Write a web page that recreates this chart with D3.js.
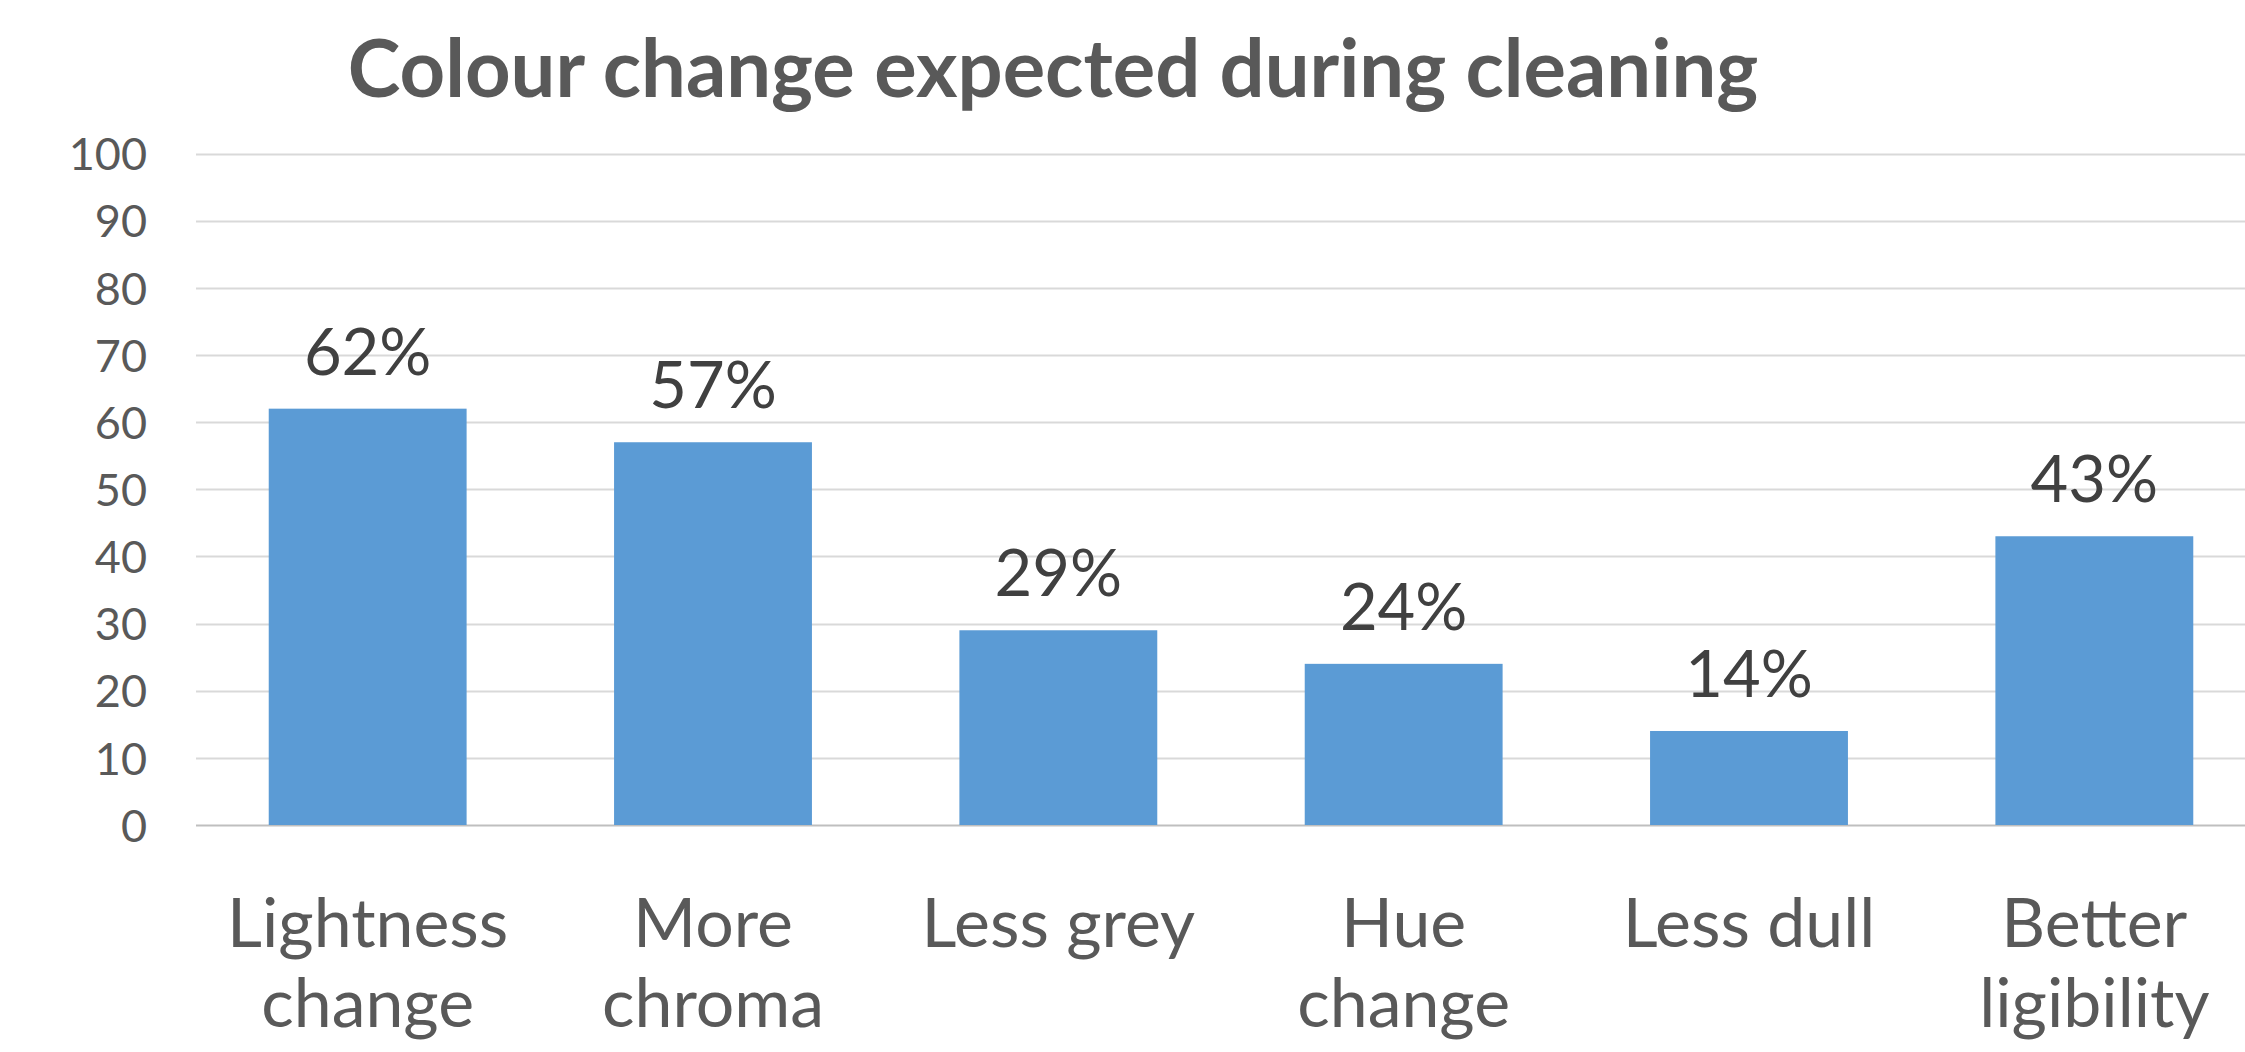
<!DOCTYPE html>
<html>
<head>
<meta charset="utf-8">
<script src="https://cdn.jsdelivr.net/npm/d3@7"></script>
<style>
  html, body { margin: 0; padding: 0; background: #fff; overflow: hidden; }
  svg { display: block; }
</style>
</head>
<body>
<svg id="chart" width="2245" height="1052"></svg>
<script>
const categories = [["Lightness", "change"], ["More", "chroma"], ["Less grey"], ["Hue", "change"], ["Less dull"], ["Better", "ligibility"]];
const values = [62, 57, 29, 24, 14, 43];
const yTicks = [0, 10, 20, 30, 40, 50, 60, 70, 80, 90, 100];
const title = "Colour change expected during cleaning";

const W = 2245, H = 1052;
const svg = d3.select("#chart");
const FONT = "Lato, 'Open Sans', sans-serif";

const x = d3.scaleBand().domain(d3.range(categories.length)).range([195, 2267]).paddingInner(0.427).paddingOuter(0.2135);
const y = d3.scaleLinear().domain([0, 100]).range([825, 153.5]);

// gridlines
const grid = svg.append("g");
grid.selectAll("line").data(yTicks).join("line")
  .attr("x1", 196).attr("x2", W)
  .attr("y1", d => Math.round(y(d)) + 0.5).attr("y2", d => Math.round(y(d)) + 0.5)
  .attr("stroke", d => d === 0 ? "#bfbfbf" : "#d9d9d9").attr("stroke-width", 2);

// y axis labels via d3 axis
const yAxis = svg.append("g").attr("transform", "translate(147,0)")
  .call(d3.axisLeft(y).tickValues(yTicks).tickSize(0).tickPadding(0));
yAxis.select(".domain").remove();
yAxis.selectAll("text").attr("font-family", FONT).attr("font-size", 45).attr("fill", "#595959").attr("dy", "0.36em");

// bars
svg.append("g").selectAll("rect").data(values).join("rect")
  .attr("x", (d, i) => x(i)).attr("width", x.bandwidth())
  .attr("y", d => y(d)).attr("height", d => y(0) - y(d))
  .attr("fill", "#5b9bd5");

// value labels
svg.append("g").selectAll("text").data(values).join("text")
  .attr("x", (d, i) => x(i) + x.bandwidth() / 2)
  .attr("y", d => y(d) - 34)
  .attr("text-anchor", "middle")
  .attr("font-family", FONT).attr("font-size", 65).attr("fill", "#404040")
  .text(d => d + "%");

// category labels
const cat = svg.append("g").selectAll("text").data(categories).join("text")
  .attr("text-anchor", "middle")
  .attr("font-family", FONT).attr("font-size", 68).attr("fill", "#595959");
cat.each(function(lines, i) {
  const t = d3.select(this);
  lines.forEach((ln, j) => {
    t.append("tspan").attr("x", x(i) + x.bandwidth() / 2).attr("y", 947 + j * 80).text(ln);
  });
});

// title
svg.append("text").attr("x", 1053).attr("y", 97).attr("text-anchor", "middle")
  .attr("font-family", FONT).attr("font-weight", "bold").attr("font-size", 79.5).attr("fill", "#595959")
  .text(title);
</script>
</body>
</html>
